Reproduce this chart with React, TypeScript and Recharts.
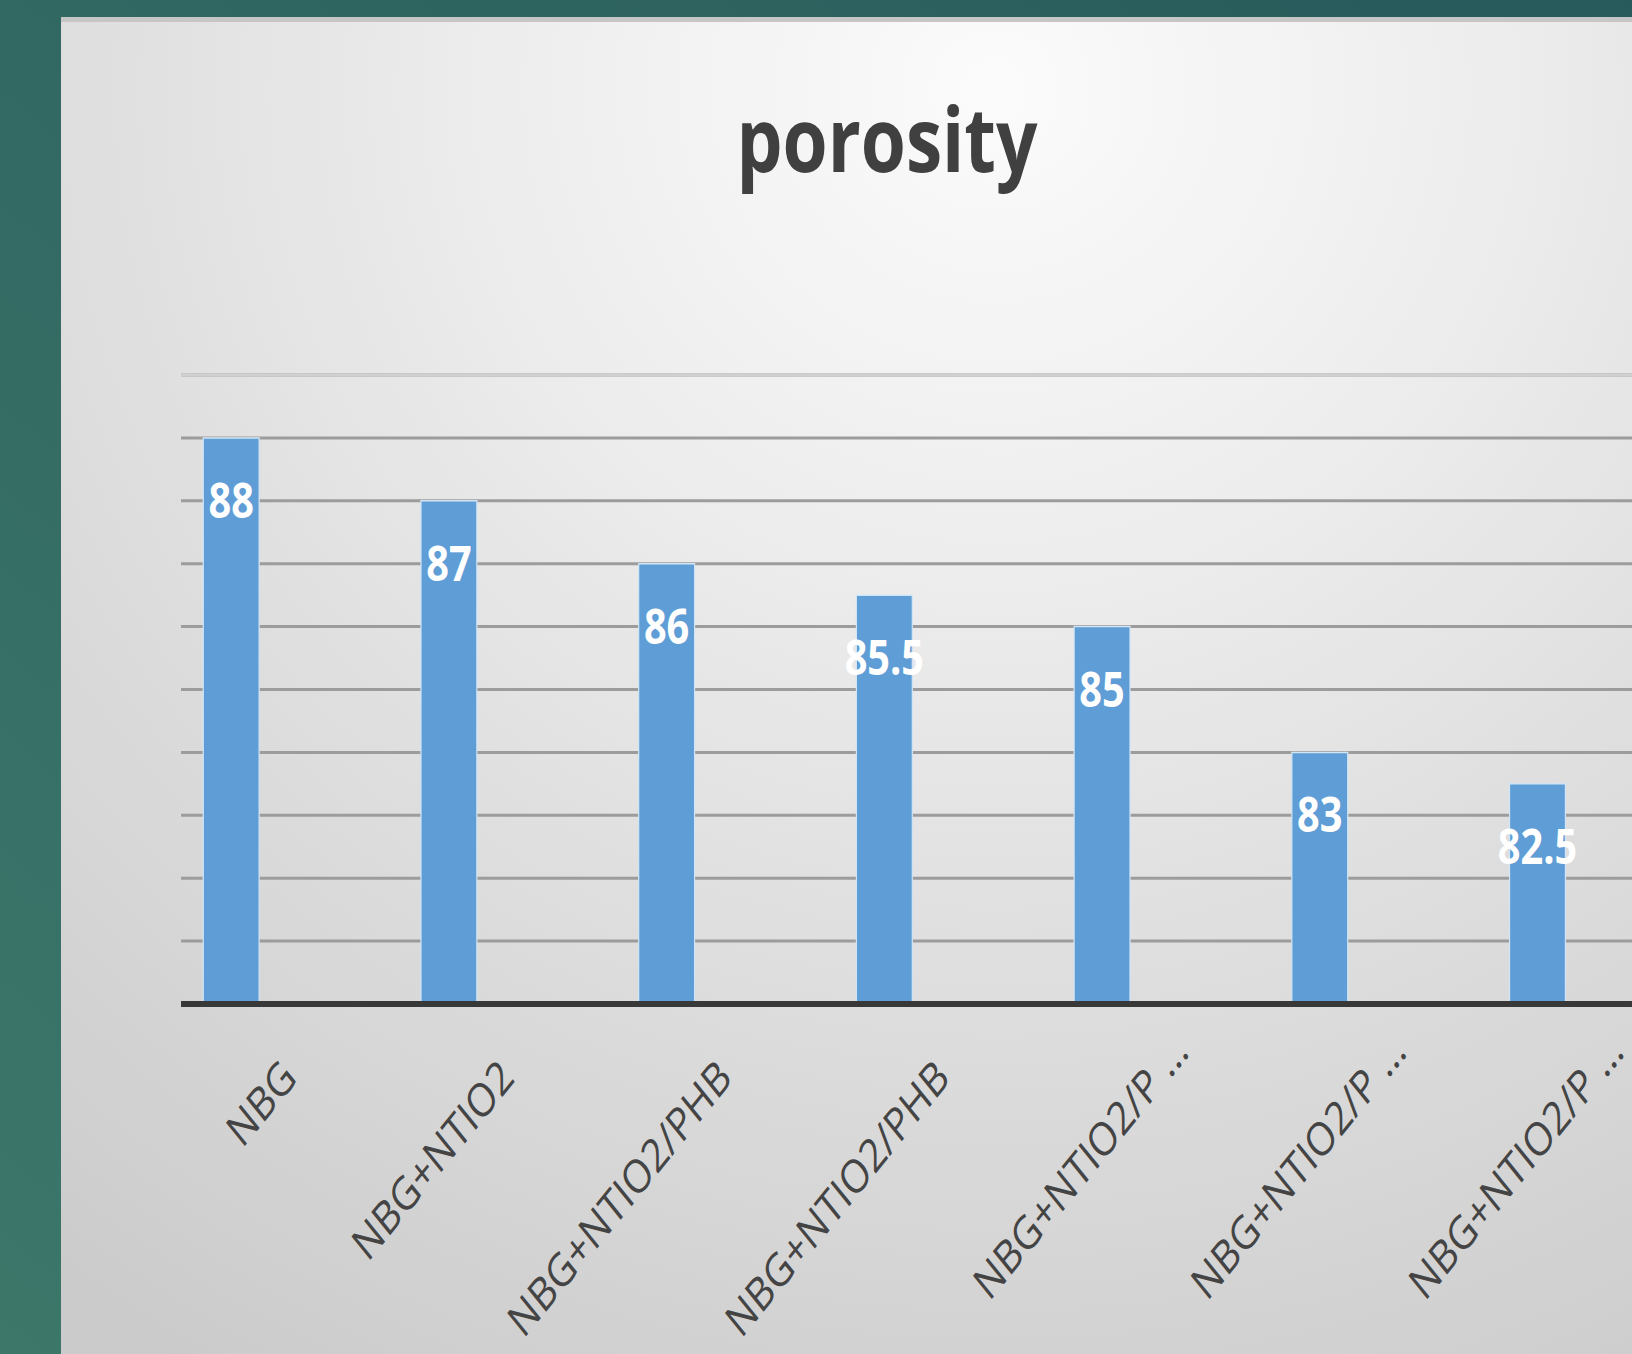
import React from "react";
import { BarChart, Bar, XAxis, YAxis, CartesianGrid, LabelList, ReferenceLine } from "recharts";

// chart data
const xLabels = [
  "NBG",
  "NBG+NTIO2",
  "NBG+NTIO2/PHB",
  "NBG+NTIO2/PHB",
  "NBG+NTIO2/P …",
  "NBG+NTIO2/P …",
  "NBG+NTIO2/P …",
];
const porosityValues = [88, 87, 86, 85.5, 85, 83, 82.5];
const yTicks = [79, 80, 81, 82, 83, 84, 85, 86, 87, 88];

const data = porosityValues.map((v, i) => ({ idx: i, porosity: v }));

// the whole chart is drawn wide and then squeezed horizontally
const SQUEEZE = 0.81;
const FONT = "'Open Sans', 'DejaVu Sans', sans-serif";
const BAR_COLOR = "#5f9dd6";

function XTick(props: any) {
  const { x, y, payload } = props;
  const label = xLabels[payload.value] ?? "";
  // cut labels hang their ellipsis past the anchor point
  const shift = label.endsWith("…") ? 37 : 0;
  return (
    <g transform={`translate(${x + 83},${y + 76})`}>
      <text
        transform="rotate(-45)"
        x={shift}
        textAnchor="end"
        fontFamily={FONT}
        fontSize={46}
        fill="#444444"
      >
        {label}
      </text>
    </g>
  );
}

function ValueLabel(props: any) {
  const { x, y, width, value } = props;
  return (
    <text
      x={x + width / 2}
      y={y + 80}
      textAnchor="middle"
      fontFamily={FONT}
      fontWeight={700}
      fontSize={49}
      fill="#ffffff"
    >
      {value}
    </text>
  );
}

export default function App() {
  return (
    <div
      style={{
        position: "fixed",
        left: 0,
        top: 0,
        width: 1632,
        height: 1354,
        overflow: "hidden",
        background: "linear-gradient(to top right, #3c776a, #275a5b)",
      }}
    >
      {/* gray slide panel */}
      <div
        style={{
          position: "absolute",
          left: 61,
          top: 17,
          width: 1640,
          height: 1360,
          borderTop: "5px solid #c6c6c6",
          boxSizing: "border-box",
          background:
            "radial-gradient(ellipse 95% 110% at 57% 5%, #fbfbfb 0%, #eeeeee 30%, #dedede 60%, #cbcbcb 100%)",
        }}
      />

      <div
        style={{
          position: "absolute",
          left: 0,
          top: 0,
          width: 2200,
          height: 1354,
          transform: `scaleX(${SQUEEZE})`,
          transformOrigin: "0 0",
        }}
      >
        <svg width={2200} height={260} style={{ position: "absolute", left: 0, top: 0 }}>
          <text
            x={1095}
            y={172}
            textAnchor="middle"
            fontFamily={FONT}
            fontWeight={700}
            fontSize={90}
            fill="#404040"
          >
            porosity
          </text>
        </svg>

        <div style={{ position: "absolute", left: 0, top: 0 }}>
          <BarChart
            width={2200}
            height={1354}
            data={data}
            margin={{ top: 375, right: 95, bottom: 50, left: 223.5 }}
          >
            <CartesianGrid vertical={false} stroke="#9c9c9c" strokeWidth={3} />
            <ReferenceLine y={89} stroke="#d0d0d0" strokeWidth={3} />
            <YAxis type="number" domain={[79, 89]} ticks={yTicks} hide width={0} />
            <XAxis
              type="number"
              dataKey="idx"
              domain={[-0.23, 6.77]}
              ticks={[0, 1, 2, 3, 4, 5, 6]}
              allowDataOverflow
              interval={0}
              tickLine={false}
              tickSize={0}
              tickMargin={0}
              height={300}
              axisLine={{ stroke: "#383838", strokeWidth: 6 }}
              tick={<XTick />}
            />
            <Bar
              dataKey="porosity"
              fill={BAR_COLOR}
              stroke="#d2e5f6"
              strokeWidth={1.5}
              barSize={69}
              isAnimationActive={false}
            >
              <LabelList dataKey="porosity" content={<ValueLabel />} />
            </Bar>
          </BarChart>
        </div>
      </div>
    </div>
  );
}
